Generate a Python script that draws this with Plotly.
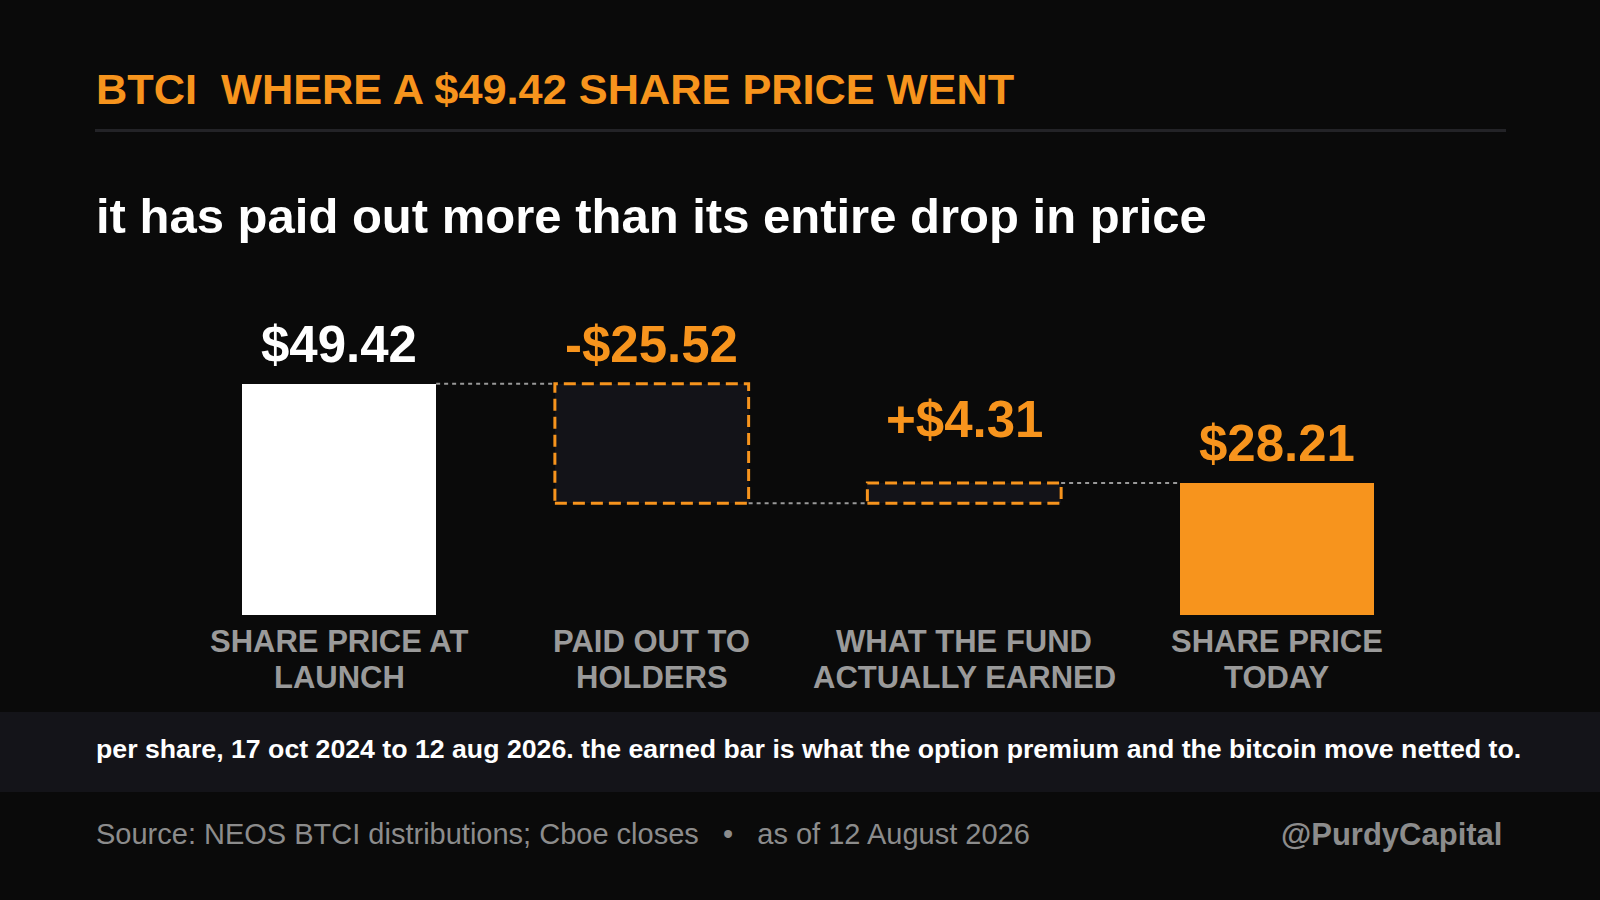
import plotly.graph_objects as go

# data
categories = ["SHARE PRICE AT<br>LAUNCH", "PAID OUT TO<br>HOLDERS",
              "WHAT THE FUND<br>ACTUALLY EARNED", "SHARE PRICE<br>TODAY"]
values = [49.42, -25.52, 4.31, 28.21]
measures = ["absolute", "relative", "relative", "total"]

title_text = "BTCI  WHERE A $49.42 SHARE PRICE WENT"
subtitle_text = "it has paid out more than its entire drop in price"
note_text = ("per share, 17 oct 2024 to 12 aug 2026. the earned bar is what the "
             "option premium and the bitcoin move netted to.")
source_text = "Source: NEOS BTCI distributions; Cboe closes   \u2022   as of 12 August 2026"
handle_text = "@PurdyCapital"

BG = "#0a0a0a"
ORANGE = "#f7941d"
WHITE = "#ffffff"
GREY = "#9a9a9a"
BAND = "#141419"
FONT = "Liberation Sans, Arial, sans-serif"

W, H = 1600, 900
ML, MR, MT, MB = 183, 167, 300, 285


def px(x):
    return (x - ML) / (W - ML - MR)


def py(y):
    return (H - MB - y) / (H - MT - MB)


# running totals -> bar bases and ends
bases, ends = [], []
run = 0.0
for v, m in zip(values, measures):
    if m == "absolute":
        b, e = 0.0, v
        run = v
    elif m == "total":
        b, e = 0.0, run
    else:
        b, e = run, run + v
        run = run + v
    bases.append(b)
    ends.append(e)

pos = list(range(len(categories)))
bar_w = 0.62
fills = [WHITE, "#131318", "#131318", ORANGE]
label_colors = [WHITE, ORANGE, ORANGE, ORANGE]
label_shift = [39, 39, 63, 39]


def fmt(v, m):
    if m == "relative":
        return ("+$" if v >= 0 else "-$") + f"{abs(v):.2f}"
    return f"${v:.2f}"


fig = go.Figure()
fig.add_trace(go.Bar(
    x=pos, y=[e - b for b, e in zip(bases, ends)], base=bases,
    width=bar_w, marker=dict(color=fills, line=dict(width=0)),
    hoverinfo="skip", showlegend=False,
))

shapes = []
annotations = []
for i, m in enumerate(measures):
    lo, hi = min(bases[i], ends[i]), max(bases[i], ends[i])
    if m == "relative":
        shapes.append(dict(type="rect", xref="x", yref="y",
                           x0=pos[i] - bar_w / 2, x1=pos[i] + bar_w / 2, y0=lo, y1=hi,
                           line=dict(color=ORANGE, width=3, dash="12px,6px"),
                           fillcolor="rgba(0,0,0,0)", layer="above"))
    annotations.append(dict(x=pos[i], y=hi, xref="x", yref="y",
                            text="<b>" + fmt(values[i], m) + "</b>",
                            showarrow=False, yanchor="middle", yshift=label_shift[i],
                            font=dict(family=FONT, size=51, color=label_colors[i])))
    if i < len(measures) - 1:
        shapes.append(dict(type="line", xref="x", yref="y",
                           x0=pos[i] + bar_w / 2, x1=pos[i + 1] - bar_w / 2,
                           y0=ends[i], y1=ends[i],
                           line=dict(color="#999999", width=2, dash="4px,4px")))

# category labels, one annotation per line so the line spacing stays tight
for i, c in enumerate(categories):
    for j, line in enumerate(c.split("<br>")):
        annotations.append(dict(x=pos[i], y=py(641 + 36 * j), xref="x", yref="paper",
                                text="<b>" + line + "</b>", showarrow=False,
                                xanchor="center", yanchor="middle",
                                font=dict(family=FONT, size=31, color=GREY)))

# header rule and footer band
shapes.append(dict(type="line", xref="paper", yref="paper", x0=px(95), x1=px(1506),
                   y0=py(130.5), y1=py(130.5), line=dict(color="#232327", width=3)))
shapes.append(dict(type="rect", xref="paper", yref="paper", x0=px(0), x1=px(W),
                   y0=py(792), y1=py(712), fillcolor=BAND, line=dict(width=0), layer="below"))

annotations += [
    dict(x=px(94), y=py(89), xref="paper", yref="paper", text="<b>" + title_text + "</b>",
         xanchor="left", yanchor="middle", showarrow=False,
         font=dict(family=FONT, size=43.3, color=ORANGE)),
    dict(x=px(94), y=py(216), xref="paper", yref="paper", text="<b>" + subtitle_text + "</b>",
         xanchor="left", yanchor="middle", showarrow=False,
         font=dict(family=FONT, size=49, color=WHITE)),
    dict(x=px(94), y=py(749), xref="paper", yref="paper", text="<b>" + note_text + "</b>",
         xanchor="left", yanchor="middle", showarrow=False,
         font=dict(family=FONT, size=26.7, color=WHITE)),
    dict(x=px(94), y=py(834), xref="paper", yref="paper", text=source_text,
         xanchor="left", yanchor="middle", showarrow=False,
         font=dict(family=FONT, size=29, color="#8c8c8c")),
    dict(x=px(1504), y=py(834), xref="paper", yref="paper", text="<b>" + handle_text + "</b>",
         xanchor="right", yanchor="middle", showarrow=False,
         font=dict(family=FONT, size=31, color="#8c8c8c")),
]

fig.update_layout(
    width=W, height=H,
    margin=dict(l=ML, r=MR, t=MT, b=MB),
    paper_bgcolor=BG, plot_bgcolor=BG,
    shapes=shapes, annotations=annotations,
    bargap=0,
    xaxis=dict(range=[-0.5, 3.5], tickvals=pos, showticklabels=False,
               showgrid=False, zeroline=False, showline=False, ticks=""),
    yaxis=dict(range=[0, 67.3], visible=False, showgrid=False, zeroline=False),
)

fig.write_html("out.html", config={"displayModeBar": False},
               post_script="document.body.style.margin='0';document.body.style.background='#0a0a0a';")
